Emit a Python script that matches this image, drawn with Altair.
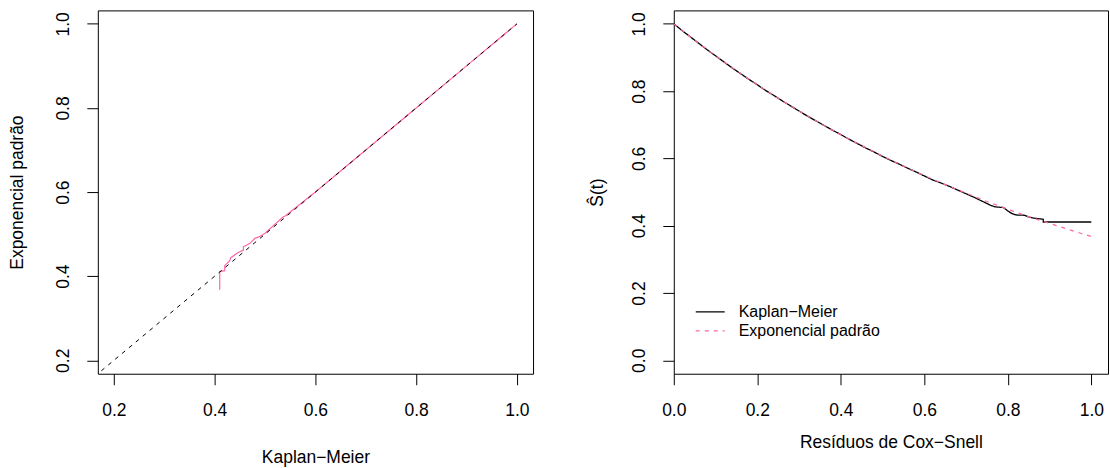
import altair as alt
import pandas as pd

FONT = "Liberation Sans"
KM_LABEL = "Kaplan\u2212Meier"
EXP_LABEL = "Exponencial padrão"
PINK = "#FF66A8"

# ---- left panel: Kaplan-Meier vs exponential survival ----
pp_km = [0.410, 0.410, 0.420, 0.420, 0.430, 0.432, 0.445, 0.457, 0.457, 0.470,
         0.480, 0.490, 0.500, 0.535, 0.540, 0.600, 0.650, 0.700, 0.800, 0.900, 1.000]
pp_exp = [0.368, 0.411, 0.413, 0.425, 0.437, 0.444, 0.455, 0.462, 0.470, 0.478,
          0.490, 0.495, 0.502, 0.540, 0.543, 0.600, 0.650, 0.700, 0.800, 0.900, 1.000]
diag_x = [0.175, 1.0]
diag_y = [0.175, 1.0]

# ---- right panel: survival of Cox-Snell residuals ----
res_km = [0.00, 0.02, 0.04, 0.06, 0.08, 0.10, 0.12, 0.14, 0.16, 0.18, 0.20, 0.22,
          0.24, 0.26, 0.28, 0.30, 0.32, 0.34, 0.36, 0.38, 0.40, 0.42, 0.44, 0.46,
          0.48, 0.50, 0.52, 0.54, 0.56, 0.58, 0.60, 0.62, 0.64, 0.66, 0.68, 0.70,
          0.72, 0.74, 0.76, 0.77, 0.79, 0.80, 0.81, 0.82, 0.84, 0.85, 0.86, 0.88,
          0.885, 0.885, 1.00]
surv_km = [1.000, 0.980, 0.961, 0.942, 0.923, 0.905, 0.887, 0.869, 0.852, 0.835,
           0.819, 0.802, 0.787, 0.771, 0.756, 0.741, 0.726, 0.712, 0.698, 0.684,
           0.671, 0.657, 0.644, 0.631, 0.619, 0.606, 0.594, 0.583, 0.571, 0.560,
           0.548, 0.536, 0.527, 0.517, 0.506, 0.495, 0.484, 0.472, 0.460, 0.456,
           0.454, 0.444, 0.436, 0.432, 0.431, 0.426, 0.423, 0.420, 0.419, 0.411, 0.411]
res_exp = [0.00, 0.05, 0.10, 0.15, 0.20, 0.25, 0.30, 0.35, 0.40, 0.45, 0.50,
           0.55, 0.60, 0.65, 0.70, 0.75, 0.80, 0.85, 0.90, 0.95, 1.00]
surv_exp = [1.000, 0.951, 0.905, 0.861, 0.819, 0.779, 0.741, 0.705, 0.670, 0.638,
            0.607, 0.577, 0.549, 0.522, 0.497, 0.472, 0.449, 0.427, 0.407, 0.387, 0.368]

ticks_left = [0.2, 0.4, 0.6, 0.8, 1.0]
ticks_right = [0.0, 0.2, 0.4, 0.6, 0.8, 1.0]

TS = 11
FS = 17.5


def xaxis(title, values, title_y):
    return alt.Axis(values=values, format=".1f", grid=False, domain=False,
                    tickSize=TS, tickColor="black", tickWidth=1,
                    labelFontSize=FS, labelColor="black", labelBaseline="alphabetic",
                    labelPadding=31, labelFlush=False, labelOverlap=False,
                    title=title, titleFontSize=FS, titleFontWeight="normal",
                    titleColor="black", titleBaseline="alphabetic", titleY=title_y)


def yaxis(title, values, title_x):
    return alt.Axis(values=values, format=".1f", grid=False, domain=False,
                    tickSize=TS, tickColor="black", tickWidth=1,
                    labelFontSize=FS, labelColor="black", labelAngle=270,
                    labelAlign="center", labelBaseline="alphabetic",
                    labelPadding=18, labelFlush=False, labelOverlap=False,
                    title=title, titleFontSize=FS, titleFontWeight="normal",
                    titleColor="black", titleAngle=270, titleBaseline="alphabetic",
                    titleX=title_x)


# left chart
df_pp = pd.DataFrame({"km": pp_km, "exp": pp_exp, "i": list(range(len(pp_km)))})
df_diag = pd.DataFrame({"km": diag_x, "exp": diag_y})

lx = alt.X("km:Q", scale=alt.Scale(domain=[0.168, 1.032], nice=False, zero=False),
           axis=xaxis(KM_LABEL, ticks_left, 89))
ly = alt.Y("exp:Q", scale=alt.Scale(domain=[0.168, 1.032], nice=False, zero=False),
           axis=yaxis(EXP_LABEL, ticks_left, -75))

pink_line = alt.Chart(df_pp).mark_line(color=PINK, strokeWidth=1.2, clip=True).encode(
    x=lx, y=ly, order="i:Q")
diag_line = alt.Chart(df_diag).mark_line(color="black", strokeWidth=1, strokeDash=[4, 5],
                                         clip=True).encode(x=lx, y=ly)
left = alt.layer(pink_line, diag_line).properties(width=436, height=364)

# right chart
df_km = pd.DataFrame({"r": res_km, "s": surv_km, "serie": KM_LABEL,
                      "i": list(range(len(res_km)))})
df_exp = pd.DataFrame({"r": res_exp, "s": surv_exp, "serie": EXP_LABEL,
                       "i": list(range(len(res_exp)))})

rx = alt.X("r:Q", scale=alt.Scale(domain=[0.0, 1.04], nice=False, zero=False),
           axis=xaxis("Resíduos de Cox\u2212Snell", ticks_right, 74))
ry = alt.Y("s:Q", scale=alt.Scale(domain=[-0.04, 1.04], nice=False, zero=False),
           axis=yaxis("Ŝ(t)", ticks_right, -71))

legend = alt.Legend(orient="none", legendX=598, legendY=294, title=None,
                    symbolType="stroke", symbolSize=841, symbolStrokeWidth=1.3,
                    labelFontSize=16, labelColor="black", labelOffset=13,
                    clipHeight=16, rowPadding=3, padding=0)
color = alt.Color("serie:N", scale=alt.Scale(domain=[KM_LABEL, EXP_LABEL],
                                             range=["black", PINK]), legend=legend)
dash = alt.StrokeDash("serie:N", scale=alt.Scale(domain=[KM_LABEL, EXP_LABEL],
                                                 range=[[1, 0], [4, 5]]), legend=legend)

km_line = alt.Chart(df_km).mark_line(strokeWidth=1.3, clip=True).encode(
    x=rx, y=ry, color=color, strokeDash=dash, order="i:Q")
exp_line = alt.Chart(df_exp).mark_line(strokeWidth=1.2, clip=True).encode(
    x=rx, y=ry, color=color, strokeDash=dash, order="i:Q")
right = alt.layer(km_line, exp_line).properties(width=435, height=364)

chart = alt.hconcat(left, right, spacing=141, bounds="flush").properties(
    padding={"left": 8, "top": 9, "right": 1, "bottom": 0}
).configure(font=FONT).configure_view(stroke="black", strokeWidth=1)

chart.save("out.html", embed_options={"renderer": "svg", "actions": False})
